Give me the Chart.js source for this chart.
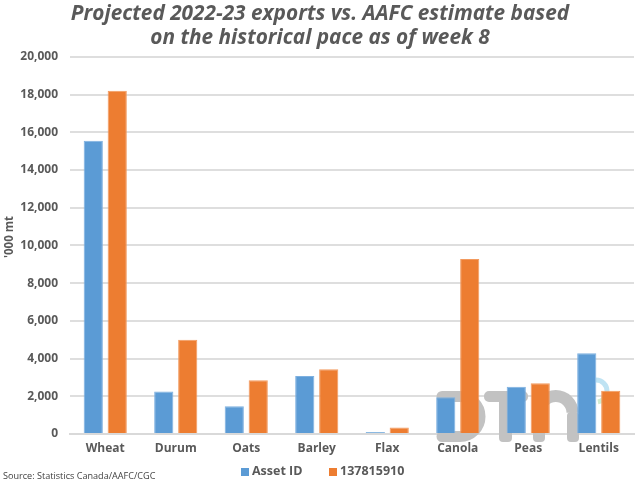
<!DOCTYPE html>
<html>
<head>
<meta charset="utf-8">
<style>
  html, body { margin: 0; padding: 0; background: #ffffff; overflow: hidden; }
  #wrap { position: relative; width: 640px; height: 480px; }
  #source { position: absolute; left: 3px; top: 470px; font: 9.1px "Open Sans", sans-serif; color: #404040; line-height: 12px; white-space: nowrap; }
  #legend { position: absolute; top: 462px; left: 0; font: bold 12.5px "Open Sans", sans-serif; color: #595959; line-height: 18px; white-space: nowrap; }
  #legend span { position: absolute; top: 0; }
  #legend i { position: absolute; top: 6px; width: 8px; height: 8px; }
</style>
<script src="https://cdn.jsdelivr.net/npm/chart.js@4"></script>
</head>
<body>
<div id="wrap">
  <canvas id="chartCanvas" width="640" height="480"></canvas>
  <div id="source">Source: Statistics Canada/AAFC/CGC</div>
  <div id="legend"></div>
</div>
<script>
const categories = ['Wheat', 'Durum', 'Oats', 'Barley', 'Flax', 'Canola', 'Peas', 'Lentils'];
const assetId = [15550, 2250, 1470, 3070, 100, 1950, 2500, 4280];
const series2 = [18200, 5000, 2850, 3430, 340, 9280, 2690, 2300];
const seriesNames = ['Asset ID', '137815910'];
const seriesColors = ['#5b9bd5', '#ed7d31'];
const titleLines = ['Projected 2022-23 exports vs. AAFC estimate based', 'on the historical pace as of week 8'];
const yAxisName = "'000 mt";

const fontName = '"Open Sans", sans-serif';

// grey DTN logo that sits behind the bars
const watermark = {
  id: 'watermark',
  beforeDatasetsDraw(chart) {
    const c = chart.ctx;
    c.save();
    c.strokeStyle = '#c2c2c2';
    c.fillStyle = '#c2c2c2';
    // D
    c.lineWidth = 11;
    c.lineCap = 'round';
    c.beginPath();
    c.moveTo(442, 396.5);
    c.lineTo(460, 396.5);
    c.arc(460, 416.5, 20, -Math.PI / 2, Math.PI / 2);
    c.lineTo(442, 436.5);
    c.stroke();
    // T
    c.beginPath();
    c.roundRect(484, 391, 44, 11, 5);
    c.roundRect(499, 395, 13, 47, 4);
    c.fill();
    // n
    c.beginPath();
    c.roundRect(533, 405, 12, 37, 4);
    c.roundRect(567, 412, 12, 30, 4);
    c.fill();
    c.lineWidth = 12;
    c.lineCap = 'butt';
    c.beginPath();
    c.arc(555.75, 412.75, 16.75, Math.PI, 0);
    c.stroke();
    // swirl over the n
    c.lineWidth = 5;
    c.strokeStyle = '#bfe3f3';
    c.beginPath();
    c.arc(596, 391, 11, -Math.PI / 2, 0.3);
    c.stroke();
    c.strokeStyle = '#d3ecd0';
    c.beginPath();
    c.arc(596, 391, 11, 0.3, 1.4);
    c.stroke();
    c.restore();
  }
};

// axis name sits at the far left, clear of the tick labels
const yAxisTitle = {
  id: 'yAxisTitle',
  afterDraw(chart) {
    const c = chart.ctx;
    c.save();
    c.translate(10, 237);
    c.rotate(-Math.PI / 2);
    c.fillStyle = '#595959';
    c.font = 'bold 11.5px ' + fontName;
    c.textAlign = 'center';
    c.textBaseline = 'middle';
    c.fillText(yAxisName, 0, 0);
    c.restore();
  }
};

const ctx = document.getElementById('chartCanvas').getContext('2d');

new Chart(ctx, {
  type: 'bar',
  data: {
    labels: categories,
    datasets: [
      { label: seriesNames[0], data: assetId, backgroundColor: seriesColors[0], borderColor: '#7db0e0', borderWidth: 1 },
      { label: seriesNames[1], data: series2, backgroundColor: seriesColors[1], borderColor: '#f29a5f', borderWidth: 1 }
    ]
  },
  plugins: [watermark, yAxisTitle],
  options: {
    responsive: false,
    animation: false,
    categoryPercentage: 0.68,
    barPercentage: 0.8,
    layout: { padding: { left: 6, right: 6, top: 0, bottom: 0 } },
    plugins: {
      title: {
        display: true,
        text: titleLines,
        color: '#595959',
        font: { family: fontName, size: 20.8, weight: 'bold', style: 'italic', lineHeight: 1.15 },
        padding: { top: 2, bottom: 7 }
      },
      legend: { display: false },
      tooltip: { enabled: false }
    },
    scales: {
      x: {
        afterFit: (scale) => { scale.height = 46; },
        grid: { display: false, drawTicks: false },
        border: { color: '#d9d9d9', width: 2 },
        ticks: { z: 1, color: '#595959', font: { family: fontName, size: 12, weight: 'bold' }, padding: 7 }
      },
      y: {
        afterFit: (scale) => { scale.width = 64; },
        min: 0,
        max: 20000,
        grid: { color: '#dedede', lineWidth: 2, drawTicks: false },
        border: { display: false },
        ticks: {
          stepSize: 2000,
          color: '#595959',
          font: { family: fontName, size: 12, weight: 'bold' },
          padding: 12,
          callback: (v) => v.toLocaleString('en-US')
        }
      }
    }
  }
});

// legend placed by hand because the items sit far apart
const legendEl = document.getElementById('legend');
const legendLeft = [241, 329];
seriesNames.forEach((name, i) => {
  const box = document.createElement('i');
  box.style.left = legendLeft[i] + 'px';
  box.style.background = seriesColors[i];
  const label = document.createElement('span');
  label.style.left = (legendLeft[i] + 11) + 'px';
  label.textContent = name;
  legendEl.append(box, label);
});
</script>
</body>
</html>
